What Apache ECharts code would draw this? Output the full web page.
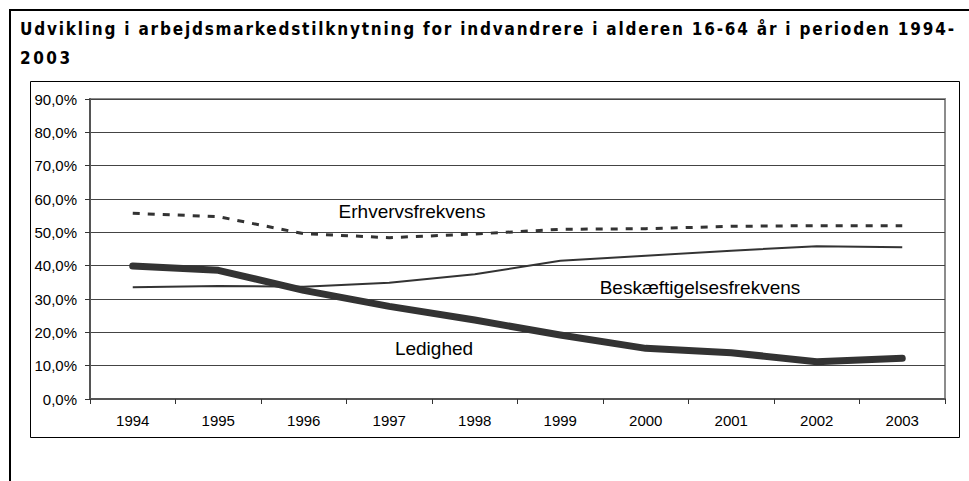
<!DOCTYPE html>
<html><head><meta charset="utf-8">
<script src="https://cdn.jsdelivr.net/npm/echarts@6/dist/echarts.min.js"></script>
<style>html,body{margin:0;padding:0;background:#fff}#c{width:969px;height:481px}</style>
</head><body><div id="c"></div>
<script>
const titleLine1 = 'Udvikling i arbejdsmarkedstilknytning for indvandrere i alderen 16-64 år i perioden 1994-';
const titleLine2 = '2003';
const years = ['1994','1995','1996','1997','1998','1999','2000','2001','2002','2003'];
const erhvervsfrekvens = [55.7, 54.7, 49.6, 48.4, 49.5, 50.9, 51.1, 51.8, 52.0, 52.0];
const beskaeftigelsesfrekvens = [33.5, 33.9, 33.7, 34.9, 37.4, 41.5, 43.0, 44.5, 45.8, 45.5];
const ledighed = [39.9, 38.6, 32.6, 27.8, 23.7, 19.2, 15.2, 13.9, 11.2, 12.2];
const seriesNames = ['Erhvervsfrekvens', 'Beskæftigelsesfrekvens', 'Ledighed'];
const yTicks = [0, 10, 20, 30, 40, 50, 60, 70, 80, 90];

const chart = echarts.init(document.getElementById('c'), null, {renderer: 'svg'});
const fmt = v => v.toFixed(1).replace('.', ',') + '%';
const lineColor = '#333333';
const titleFont = 'bold 17px "DejaVu Sans Condensed", "DejaVu Sans"';
chart.setOption({
  animation: false,
  backgroundColor: '#ffffff',
  grid: {left: 90, top: 99, right: 24, bottom: 82, show: true, borderColor: '#8c8c8c', borderWidth: 2, backgroundColor: 'rgba(0,0,0,0)'},
  xAxis: {
    type: 'category', data: years, boundaryGap: true,
    axisLine: {lineStyle: {color: '#555', width: 2}},
    axisTick: {show: true, length: 5, lineStyle: {color: '#333'}},
    axisLabel: {color: '#000', fontFamily: 'Liberation Sans, Arial', fontSize: 15, margin: 14}
  },
  yAxis: {
    type: 'value', min: yTicks[0], max: yTicks[yTicks.length - 1], interval: 10,
    axisLine: {show: true, lineStyle: {color: '#555', width: 2}},
    axisTick: {show: true, length: 5, lineStyle: {color: '#333'}},
    splitLine: {lineStyle: {color: '#444', width: 1}},
    axisLabel: {color: '#000', fontFamily: 'Liberation Sans, Arial', fontSize: 15, margin: 13, formatter: fmt}
  },
  series: [
    {name: seriesNames[0], type: 'line', data: erhvervsfrekvens, symbol: 'none',
     lineStyle: {color: lineColor, width: 3, type: [7, 8]}},
    {name: seriesNames[1], type: 'line', data: beskaeftigelsesfrekvens, symbol: 'none',
     lineStyle: {color: lineColor, width: 2}},
    {name: seriesNames[2], type: 'line', data: ledighed, symbol: 'none',
     lineStyle: {color: lineColor, width: 7, cap: 'round', join: 'round'}}
  ],
  graphic: [
    {type: 'polyline', silent: true, shape: {points: [[10, 481], [10, 10], [969, 10]]}, style: {stroke: '#000', lineWidth: 2, fill: null}},
    {type: 'rect', silent: true, shape: {x: 30.5, y: 81.5, width: 929, height: 356}, style: {stroke: '#000', lineWidth: 1, fill: null}, z: -1},
    {type: 'text', id: 't1', silent: true, style: {x: 20, y: 20, text: titleLine1, font: titleFont, fill: '#000', textVerticalAlign: 'top'}},
    {type: 'text', id: 't2', silent: true, style: {x: 20, y: 49, text: titleLine2, font: titleFont, fill: '#000', textVerticalAlign: 'top'}},
    {type: 'text', silent: true, style: {x: 412, y: 211, text: seriesNames[0], font: '19px "Liberation Sans", Arial', fill: '#000', textAlign: 'center', textVerticalAlign: 'middle'}},
    {type: 'text', silent: true, style: {x: 700, y: 287, text: seriesNames[1], font: '19px "Liberation Sans", Arial', fill: '#000', textAlign: 'center', textVerticalAlign: 'middle'}},
    {type: 'text', silent: true, style: {x: 434, y: 348, text: seriesNames[2], font: '19px "Liberation Sans", Arial', fill: '#000', textAlign: 'center', textVerticalAlign: 'middle'}}
  ]
});
function spaceTitle() {
  const texts = document.querySelectorAll('#c svg text');
  texts.forEach(t => {
    const st = (t.getAttribute('style') || '') + ' ' + (t.getAttribute('font') || '');
    if (!/bold/.test(st)) return;
    if (t.textContent === titleLine1) {
      t.setAttribute('textLength', '934');
      t.setAttribute('lengthAdjust', 'spacing');
    } else if (t.textContent === titleLine2) {
      t.setAttribute('letter-spacing', '2.5');
    }
  });
}
spaceTitle();
chart.on('finished', spaceTitle);
setTimeout(spaceTitle, 50);
</script></body></html>
